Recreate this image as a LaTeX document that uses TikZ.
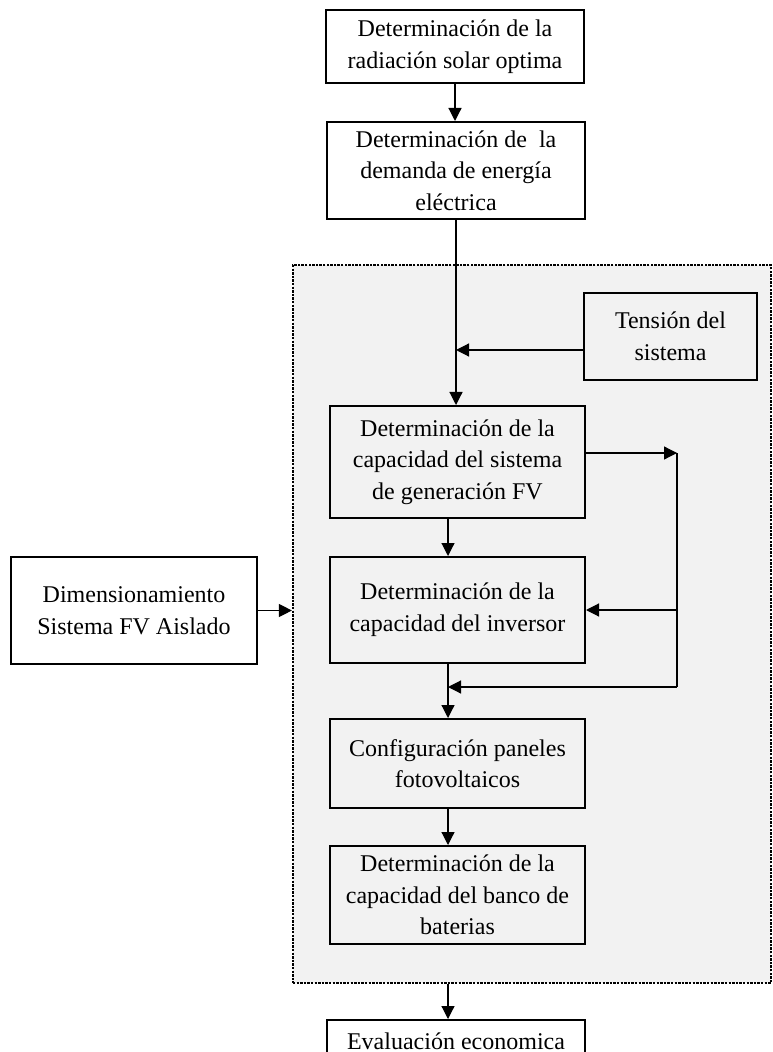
\documentclass[tikz,border=0pt]{standalone}
\usepackage{fontspec}
\setmainfont{Liberation Serif}
\usepackage{tikz}
\usepackage{xcolor}
\usetikzlibrary{arrows.meta}
\definecolor{fondo}{HTML}{F2F2F2}

\begin{document}
\begin{tikzpicture}[x=0.5pt,y=-0.5pt,
                caja/.style={draw=black, line width=1pt, align=center, inner sep=0pt, font=\fontsize{12pt}{15.8pt}\selectfont},
                flecha/.style={-{Triangle[length=6.5pt,width=6.5pt]}, line width=0.6pt}]
                \useasboundingbox (0,0) rectangle (772,1052);
                \node[draw=black, fill=fondo, line width=1.1pt, dash pattern=on 1.2pt off 0.6pt, minimum width=239pt, minimum height=359pt, inner sep=0pt] (bloque) at (532,624) {};
                \node[caja, minimum width=129pt, minimum height=36.5pt] (radiacion) at (455,46.5) {Determinación de la\\radiación solar optima};
                \node[caja, minimum width=129pt, minimum height=48.5pt] (demanda) at (456,170.5) {Determinación de~ la\\demanda de energía\\eléctrica};
                \node[caja, minimum width=86.5pt, minimum height=43.5pt] (tension) at (670.5,336.5) {Tensión del\\sistema};
                \node[caja, minimum width=127.5pt, minimum height=56pt] (generacion) at (457.5,462) {Determinación de la\\capacidad del sistema\\de generación FV};
                \node[caja, minimum width=127.5pt, minimum height=53pt] (inversor) at (457.5,610) {Determinación de la\\capacidad del inversor};
                \node[caja, minimum width=127.5pt, minimum height=44.5pt] (paneles) at (457.5,763.5) {Configuración paneles\\fotovoltaicos};
                \node[caja, minimum width=127.5pt, minimum height=49pt] (baterias) at (457.5,895) {Determinación de la\\capacidad del banco de\\baterias};
                \node[caja, minimum width=129pt, minimum height=21pt] (evaluacion) at (456,1041) {Evaluación economica};
                \node[caja, minimum width=123pt, minimum height=53.5pt] (aislado) at (134,610.5) {Dimensionamiento\\Sistema FV Aislado};
                \coordinate (eje) at (448,0);
                \coordinate (ret1) at (677,453);
                \coordinate (ret2) at (677,687);
                \coordinate (tenout) at ([yshift=-6.75pt]tension.west);
                \draw[flecha] (radiacion.south) -- (radiacion.south |- demanda.north);
                \draw[flecha] (demanda.south) -- (demanda.south |- generacion.north);
                \draw[flecha] (tenout) -- (tenout -| demanda.south);
                \draw[flecha] (generacion.east |- ret1) -- (ret1);
                \draw[line width=0.6pt] (ret1) -- (ret2);
                \draw[flecha] (inversor.east -| ret1) -- (inversor.east);
                \draw[flecha] (ret2) -- (ret2 -| eje);
                \draw[flecha] (generacion.south -| eje) -- (inversor.north -| eje);
                \draw[flecha] (inversor.south -| eje) -- (paneles.north -| eje);
                \draw[flecha] (paneles.south -| eje) -- (baterias.north -| eje);
                \draw[flecha] (aislado.east) -- (aislado.east -| bloque.west);
                \draw[flecha] (bloque.south -| eje) -- (evaluacion.north -| eje);
            \end{tikzpicture}
\end{document}
